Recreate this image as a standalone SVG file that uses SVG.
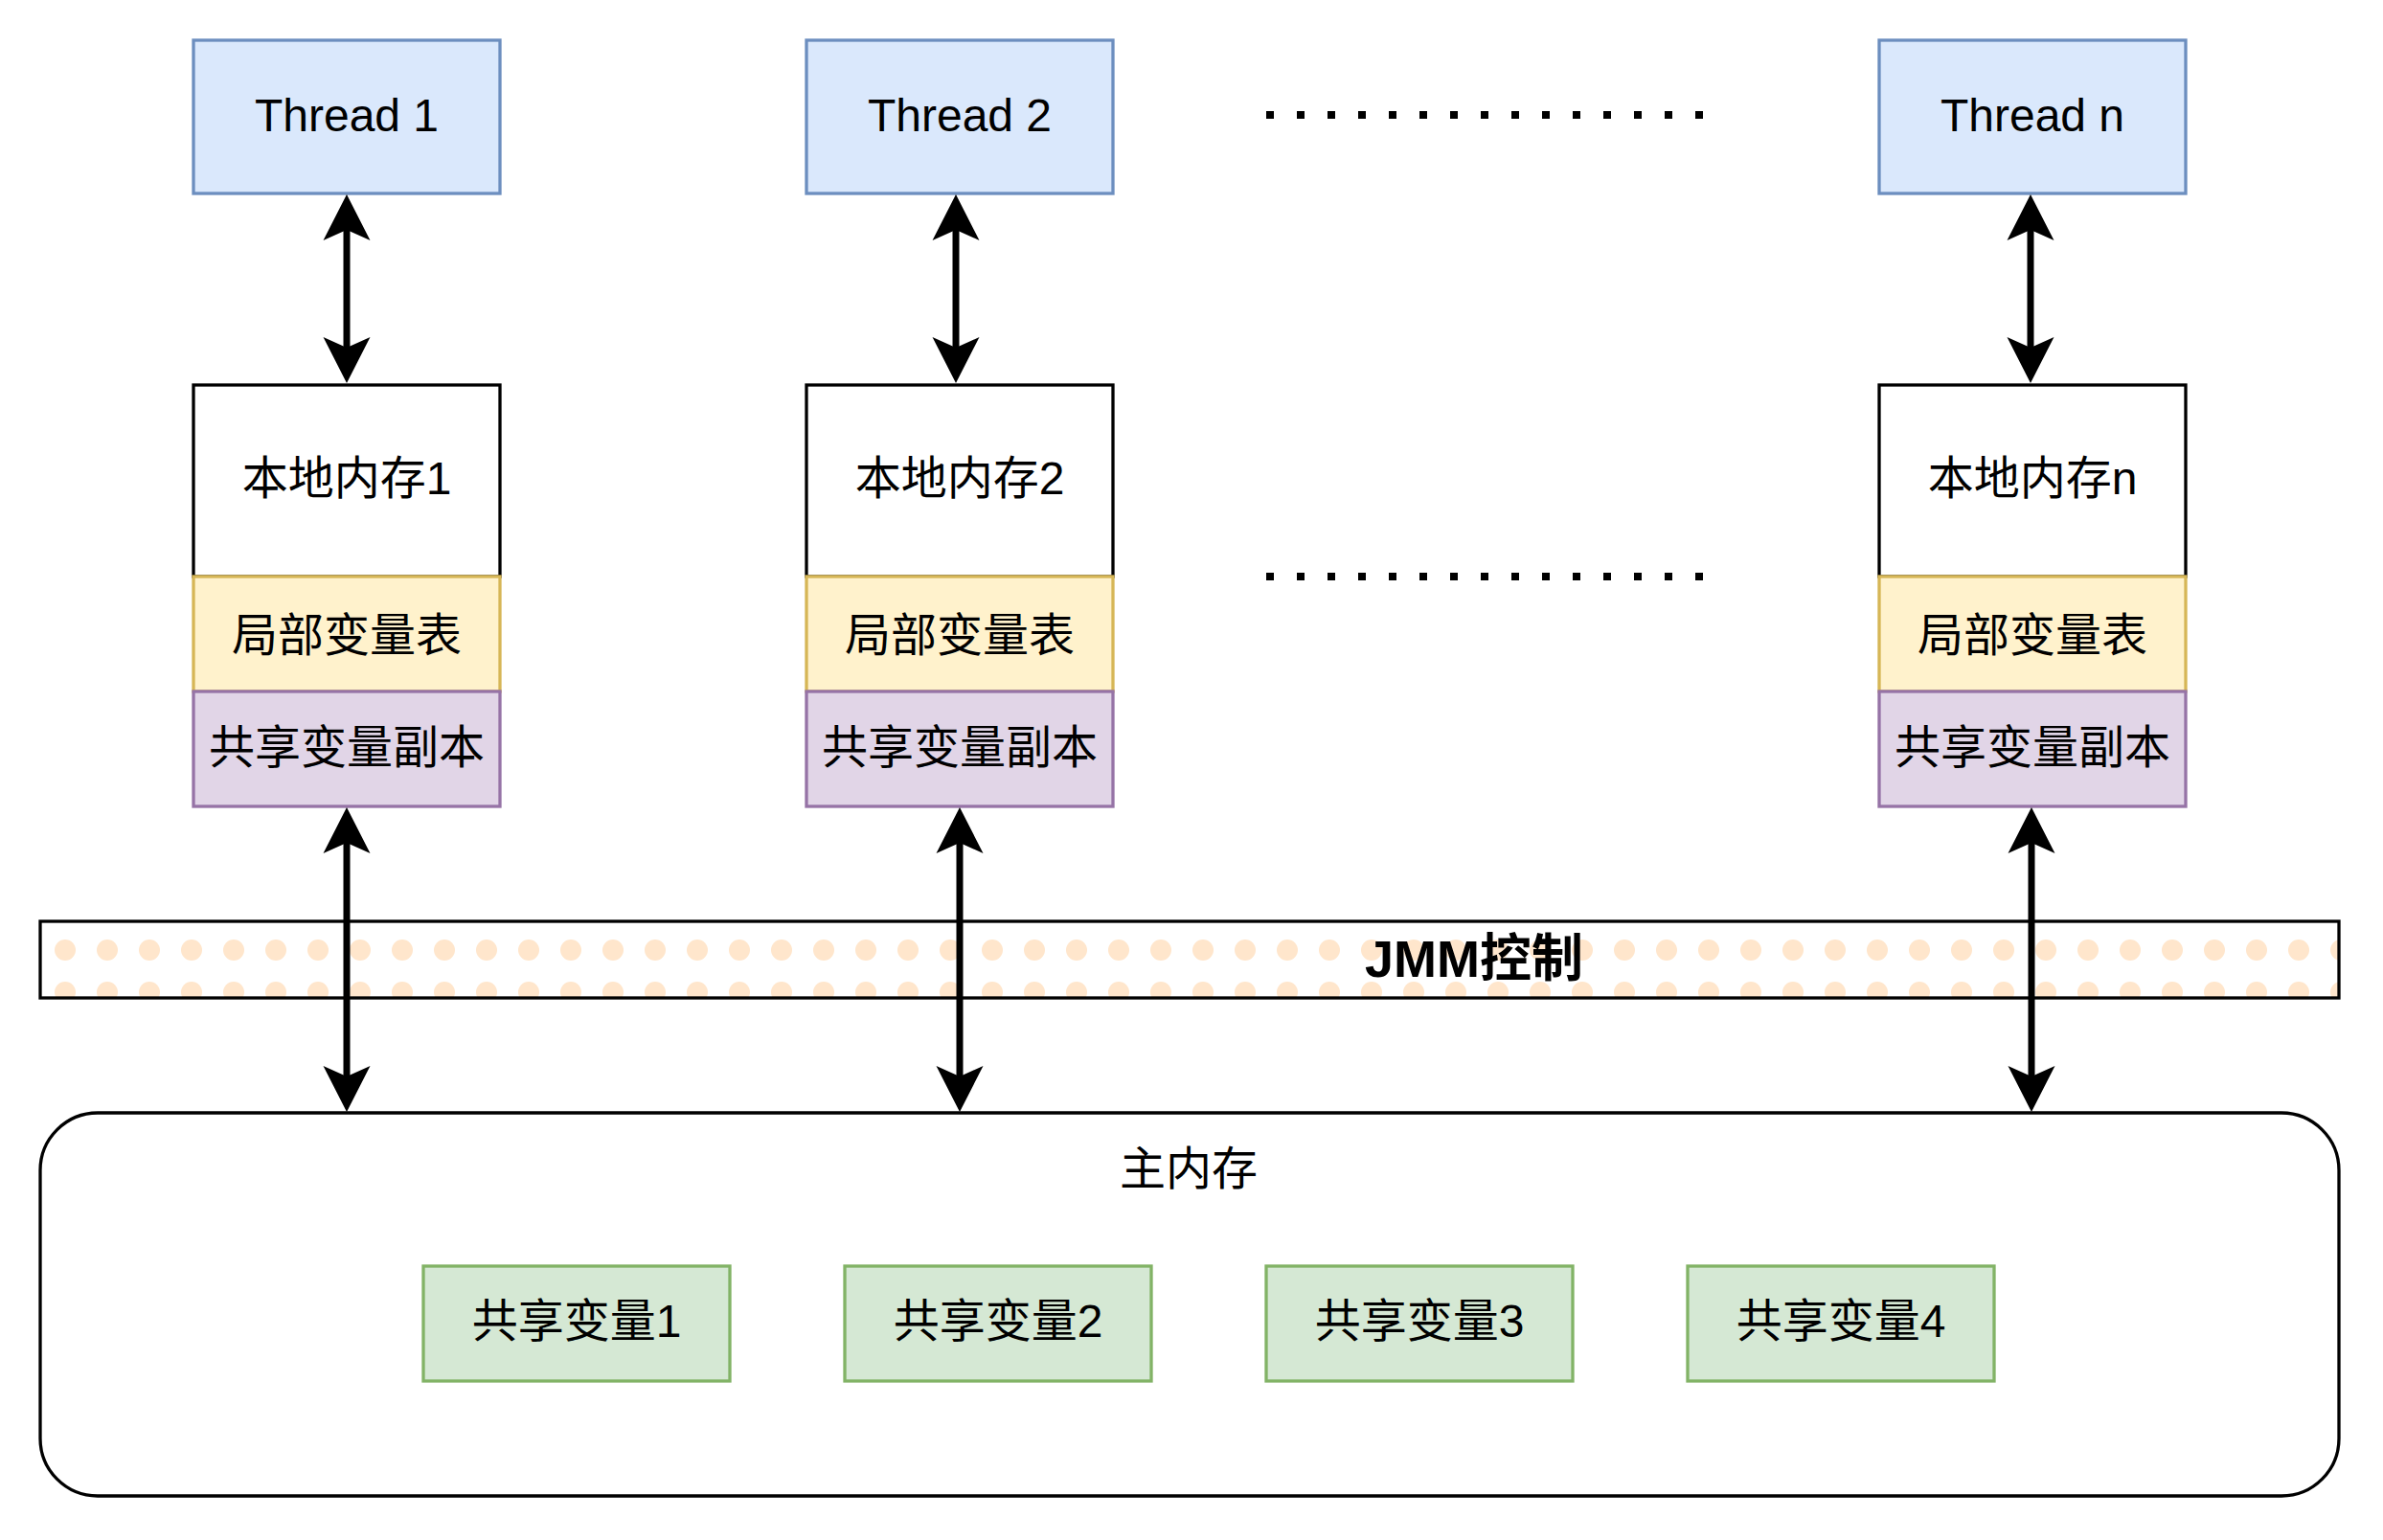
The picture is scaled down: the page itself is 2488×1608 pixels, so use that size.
<svg xmlns="http://www.w3.org/2000/svg" width="2488" height="1608" viewBox="0 0 2488 1608">
<style>
text{font-family:"Liberation Sans","Noto Sans CJK SC",sans-serif;font-size:48px;fill:#000;text-anchor:middle}
.b{font-weight:bold;font-size:54px}
.thread{fill:#dae8fc;stroke:#6c8ebf;stroke-width:3.3}
.local{fill:#fff;stroke:#000;stroke-width:3.3}
.lv{fill:#fff2cc;stroke:#d6b656;stroke-width:3.3}
.sc{fill:#e1d5e7;stroke:#9673a6;stroke-width:3.3}
.sv{fill:#d5e8d4;stroke:#82b366;stroke-width:3.3}
.conn line{stroke:#000;stroke-width:7;fill:none;marker-start:url(#ah);marker-end:url(#ah)}
.ell{stroke:#000;stroke-width:8;stroke-dasharray:8 24;fill:none}
</style>
<defs>
<pattern id="dots" patternUnits="userSpaceOnUse" x="46" y="970" width="44" height="44">
<circle cx="22" cy="22" r="11" fill="#ffe6cc"/>
</pattern>
<marker id="ah" markerUnits="userSpaceOnUse" viewBox="0 -25 48 50" refX="13" refY="0" markerWidth="48" markerHeight="50" orient="auto-start-reverse">
<path d="M0,-24.5 L48,0 L0,24.5 L11,0 Z" fill="#000"/>
</marker>
</defs>
<rect width="2488" height="1608" fill="#fff"/>

<g id="jmm">
<rect x="42" y="962" width="2400" height="80" fill="#fff"/>
<rect x="42" y="962" width="2400" height="80" fill="url(#dots)" stroke="#000" stroke-width="3.3"/>
</g>

<g id="main-memory">
<rect x="42" y="1162" width="2400" height="400" rx="60" ry="60" fill="#fff" stroke="#000" stroke-width="3.3"/>
<text x="1241" y="1237">主内存</text>
</g>

<g id="thread1"><rect class="thread" x="202" y="42" width="320" height="160"/><text x="362" y="137">Thread 1</text></g>
<g id="thread2"><rect class="thread" x="842" y="42" width="320" height="160"/><text x="1002" y="137">Thread 2</text></g>
<g id="threadn"><rect class="thread" x="1962" y="42" width="320" height="160"/><text x="2122" y="137">Thread n</text></g>

<g id="local1">
<rect class="local" x="202" y="402" width="320" height="200"/><text x="362" y="516">本地内存1</text>
<rect class="lv" x="202" y="602" width="320" height="120"/><text x="362" y="680">局部变量表</text>
<rect class="sc" x="202" y="722" width="320" height="120"/><text x="362" y="797">共享变量副本</text>
</g>
<g id="local2">
<rect class="local" x="842" y="402" width="320" height="200"/><text x="1002" y="516">本地内存2</text>
<rect class="lv" x="842" y="602" width="320" height="120"/><text x="1002" y="680">局部变量表</text>
<rect class="sc" x="842" y="722" width="320" height="120"/><text x="1002" y="797">共享变量副本</text>
</g>
<g id="localn">
<rect class="local" x="1962" y="402" width="320" height="200"/><text x="2122" y="516">本地内存n</text>
<rect class="lv" x="1962" y="602" width="320" height="120"/><text x="2122" y="680">局部变量表</text>
<rect class="sc" x="1962" y="722" width="320" height="120"/><text x="2122" y="797">共享变量副本</text>
</g>

<g id="var1"><rect class="sv" x="442" y="1322" width="320" height="120"/><text x="602" y="1396">共享变量1</text></g>
<g id="var2"><rect class="sv" x="882" y="1322" width="320" height="120"/><text x="1042" y="1396">共享变量2</text></g>
<g id="var3"><rect class="sv" x="1322" y="1322" width="320" height="120"/><text x="1482" y="1396">共享变量3</text></g>
<g id="var4"><rect class="sv" x="1762" y="1322" width="320" height="120"/><text x="1922" y="1396">共享变量4</text></g>

<g id="jmm-label"><text class="b" x="1539" y="1020">JMM控制</text></g>

<g id="ellipsis">
<line class="ell" x1="1322" y1="120" x2="1778" y2="120"/>
<line class="ell" x1="1322" y1="602" x2="1778" y2="602"/>
</g>

<g id="connectors" class="conn">
<line x1="362" y1="238" x2="362" y2="365"/>
<line x1="998" y1="238" x2="998" y2="365"/>
<line x1="2120" y1="238" x2="2120" y2="365"/>
<line x1="362" y1="878" x2="362" y2="1126"/>
<line x1="1002" y1="878" x2="1002" y2="1126"/>
<line x1="2121" y1="878" x2="2121" y2="1126"/>
</g>
</svg>
